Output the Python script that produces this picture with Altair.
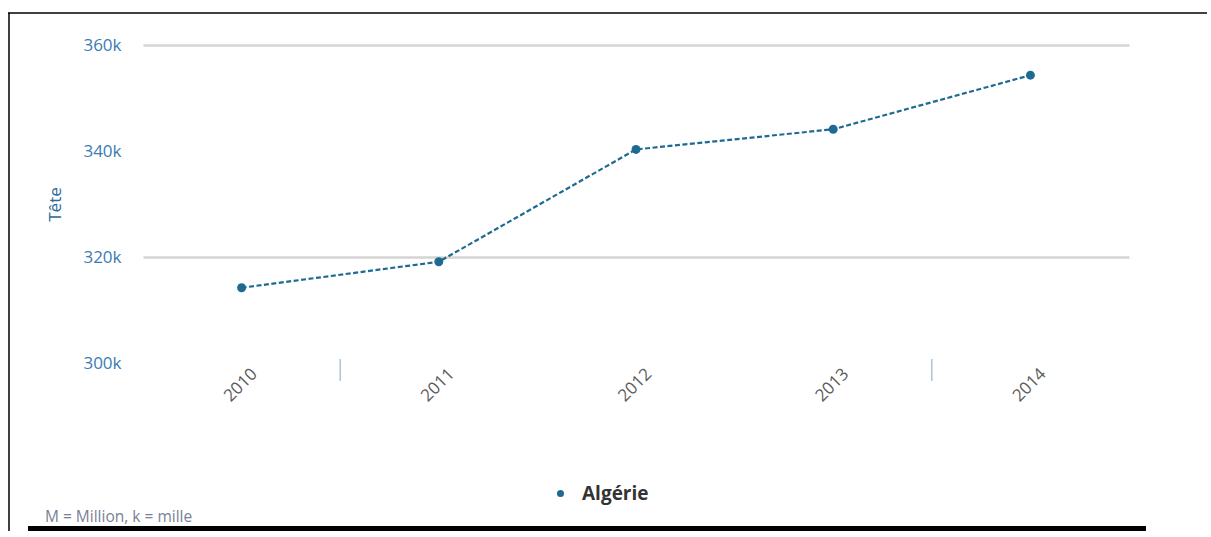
import altair as alt
import pandas as pd

# Livestock head count for Algeria, by year
years = ["2010", "2011", "2012", "2013", "2014"]
heads = [314200, 319100, 340300, 344100, 354300]
series = ["Algérie"] * len(years)

# category boundaries that carry a separator tick
divider_years = ["2010", "2013"]

y_ticks = [300000, 320000, 340000, 360000]

df = pd.DataFrame({"annee": years, "tetes": heads, "pays": series})
dividers = pd.DataFrame({"annee": divider_years})

BLUE = "#1f6a92"

x_enc = alt.X(
    "annee:N",
    sort=years,
    scale=alt.Scale(type="band", domain=years, paddingInner=0, paddingOuter=0),
    axis=alt.Axis(
        title=None,
        domain=False,
        ticks=False,
        tickSize=0,
        labelAngle=-45,
        labelAlign="right",
        labelBaseline="middle",
        labelPadding=8,
        labelOffset=13,
        labelFont="Open Sans",
        labelFontSize=17,
        labelColor="#5b5b5b",
    ),
)

y_enc = alt.Y(
    "tetes:Q",
    scale=alt.Scale(domain=[300000, 360000], nice=False, zero=False),
    axis=alt.Axis(
        title="Tête",
        values=y_ticks,
        format="~s",
        domain=False,
        ticks=False,
        tickSize=0,
        labelPadding=22,
        labelFont="Open Sans",
        labelFontSize=17,
        labelColor="#3b7bb5",
        titleFont="Open Sans",
        titleFontSize=17,
        titleFontWeight="normal",
        titleColor="#2a6a9a",
        titleX=-79,
        titleY=159,
        grid=True,
        gridColor="#d4d4d4",
        gridWidth=2.5,
        gridOpacity=alt.ExprRef(expr="datum.value % 40000 == 0 ? 1 : 0"),
    ),
)

line = alt.Chart(df).mark_line(
    color=BLUE, strokeWidth=2.2, strokeDash=[5, 2.5]
).encode(x=x_enc, y=y_enc)

points = alt.Chart(df).mark_point(
    filled=True, shape="circle", size=80, opacity=1
).encode(
    x=alt.X("annee:N", sort=years),
    y=alt.Y("tetes:Q"),
    color=alt.Color(
        "pays:N",
        scale=alt.Scale(domain=["Algérie"], range=[BLUE]),
        legend=alt.Legend(
            title=None,
            orient="none",
            legendX=408,
            legendY=439,
            symbolType="circle",
            symbolSize=50,
            labelFont="Open Sans",
            labelFontSize=19,
            labelFontWeight="bold",
            labelColor="#333333",
            labelOffset=12,
        ),
    ),
)

# small separator ticks at the right edge of selected categories
separators = alt.Chart(dividers).mark_rule(
    color="#aec3d8", strokeWidth=1.5
).encode(
    x=alt.X("annee:N", sort=years, bandPosition=1),
    y=alt.value(314),
    y2=alt.value(336),
)

footer = alt.Chart(pd.DataFrame({"t": ["M = Million, k = mille"]})).mark_text(
    align="left", baseline="middle", font="Open Sans", fontSize=15.5, color="#7a7f95"
).encode(text="t:N", x=alt.value(-98), y=alt.value(472))

# page frame: top and left borders, heavy bottom rule
frame_top = alt.Chart(pd.DataFrame({"k": [0]})).mark_rule(color="black", strokeWidth=1.5).encode(
    x=alt.value(-135), x2=alt.value(1070), y=alt.value(-32)
)
frame_left = alt.Chart(pd.DataFrame({"k": [0]})).mark_rule(color="black", strokeWidth=1.5).encode(
    x=alt.value(-134), y=alt.value(-32), y2=alt.value(495)
)
frame_bottom = alt.Chart(pd.DataFrame({"k": [0]})).mark_rule(color="black", strokeWidth=5).encode(
    x=alt.value(-115), x2=alt.value(1003), y=alt.value(483.5)
)

chart = alt.layer(
    line, points, separators, footer, frame_top, frame_left, frame_bottom
).properties(
    width=986,
    height=318,
    autosize=alt.AutoSizeParams(type="none"),
    padding={"left": 143, "top": 45, "right": 78, "bottom": 168},
    background="white",
).configure_view(stroke=None)

chart.save("out.html", embed_options={"renderer": "svg", "actions": False})
